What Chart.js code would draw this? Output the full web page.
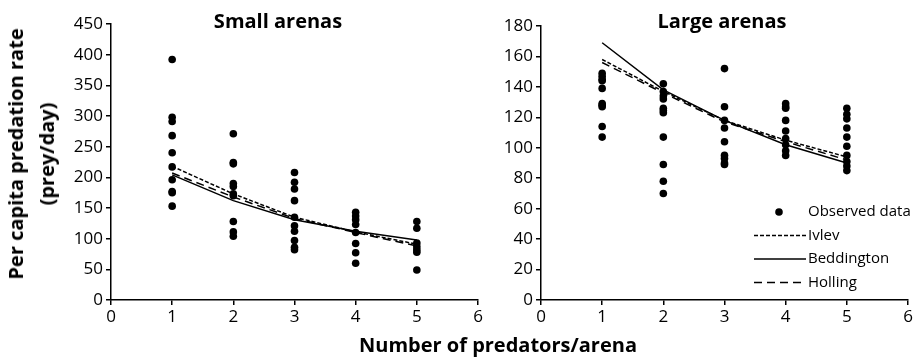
<!DOCTYPE html>
<html>
<head>
<meta charset="utf-8">
<script src="https://cdn.jsdelivr.net/npm/chart.js@4.4.1/dist/chart.umd.min.js"></script>
<style>
  html, body { margin: 0; padding: 0; background: #fff; }
  body { width: 919px; height: 362px; position: relative; overflow: hidden; font-family: 'Open Sans', sans-serif; color: #000; }
  canvas { position: absolute; top: 0; }
  #c1 { left: 0; }
  #c2 { left: 480px; }
  .title { position: absolute; font-weight: bold; white-space: nowrap; transform: translate(-50%, -50%); }
  #t1 { left: 278px; top: 20px; font-size: 20px; }
  #t2 { left: 722px; top: 20px; font-size: 20px; }
  #xt { left: 498px; top: 344px; font-size: 20px; }
  #yt { left: 31px; top: 154px; font-size: 20px; line-height: 31px; text-align: center; transform: translate(-50%, -50%) rotate(-90deg); }
</style>
</head>
<body>
<canvas id="c1" width="490" height="362"></canvas>
<canvas id="c2" width="439" height="362"></canvas>
<div class="title" id="t1">Small arenas</div>
<div class="title" id="t2">Large arenas</div>
<div class="title" id="xt">Number of predators/arena</div>
<div class="title" id="yt">Per capita predation rate<br>(prey/day)</div>
<script>
// ---------- data ----------
const predators = [1, 2, 3, 4, 5];
const xTicks = [0, 1, 2, 3, 4, 5, 6];

// Small arenas: observed per capita predation rate at each predator density
const smallObs1 = [392, 298, 291, 268, 240, 217, 196, 177, 175, 153];
const smallObs2 = [271, 224, 222, 190, 185, 173, 170, 128, 111, 104];
const smallObs3 = [208, 192, 181, 162, 135, 121, 112, 97, 86, 82];
const smallObs4 = [143, 137, 131, 123, 110, 92, 77, 60];
const smallObs5 = [128, 117, 93, 87, 82, 78, 49];
const smallIvlev = [218, 173, 135, 111, 91];
const smallBeddington = [204, 162, 131, 112, 98];
const smallHolling = [207, 168, 133, 110, 88];
const smallYTicks = [0, 50, 100, 150, 200, 250, 300, 350, 400, 450];

// Large arenas
const largeObs1 = [149, 147, 145, 144, 139, 129, 128, 127, 114, 107];
const largeObs2 = [142, 137, 134, 132, 126, 124.5, 123, 107, 89, 78, 70];
const largeObs3 = [152, 127, 118, 113, 104, 95, 93, 90, 89];
const largeObs4 = [129, 127, 126, 118, 111, 106, 102, 98, 95];
const largeObs5 = [126, 122, 119, 113, 107, 101, 95, 91, 88, 85];
const largeIvlev = [158, 137, 118, 105, 94];
const largeBeddington = [169, 138, 118, 102, 90];
const largeHolling = [156, 136, 117, 104, 92];
const largeYTicks = [0, 20, 40, 60, 80, 100, 120, 140, 160, 180];

const seriesNames = ['Observed data', 'Ivlev', 'Beddington', 'Holling'];

// ---------- helpers ----------
function obsPoints(groups) {
  const pts = [];
  groups.forEach((vals, i) => vals.forEach(v => pts.push({ x: predators[i], y: v })));
  return pts;
}
function linePoints(vals) {
  return vals.map((v, i) => ({ x: predators[i], y: v }));
}

const tickFont = { family: "'Open Sans', sans-serif", size: 17 };

// legend drawn inside chart area (right panel)
const insideLegend = {
  id: 'insideLegend',
  afterDraw(chart, args, opts) {
    if (!opts.show) return;
    const ctx = chart.ctx;
    const x0 = opts.x, y0 = opts.y, gap = opts.gap;
    ctx.save();
    ctx.font = "15px 'Open Sans', sans-serif";
    ctx.textBaseline = 'middle';
    ctx.fillStyle = '#000';
    chart.data.datasets.forEach((ds, i) => {
      const y = y0 + i * gap;
      if (i === 0) {
        ctx.beginPath();
        ctx.arc(x0 + 25, y, ds.pointRadius, 0, Math.PI * 2);
        ctx.fill();
      } else {
        ctx.beginPath();
        ctx.setLineDash(ds.borderDash || []);
        ctx.lineWidth = ds.borderWidth;
        ctx.strokeStyle = ds.borderColor;
        ctx.moveTo(x0, y);
        ctx.lineTo(x0 + 52, y);
        ctx.stroke();
        ctx.setLineDash([]);
      }
      ctx.fillText(ds.label, x0 + 54, y);
    });
    ctx.restore();
  }
};

function makeChart(id, obs, ivlev, bedd, holl, yTicks, geom, legendOpts) {
  const yMax = yTicks[yTicks.length - 1];
  const yStep = yTicks[1] - yTicks[0];
  return new Chart(document.getElementById(id), {
    type: 'scatter',
    data: {
      datasets: [
        { label: seriesNames[0], data: obsPoints(obs), pointRadius: 3.8, pointBackgroundColor: '#000', pointBorderColor: '#000', borderWidth: 0, showLine: false },
        { label: seriesNames[1], data: linePoints(ivlev), showLine: true, borderColor: '#000', borderWidth: 1.5, borderDash: [4, 2], pointRadius: 0 },
        { label: seriesNames[2], data: linePoints(bedd), showLine: true, borderColor: '#000', borderWidth: 1.5, pointRadius: 0 },
        { label: seriesNames[3], data: linePoints(holl), showLine: true, borderColor: '#000', borderWidth: 1.5, borderDash: [8, 5], pointRadius: 0 }
      ]
    },
    options: {
      responsive: false,
      animation: false,
      events: [],
      layout: { padding: { left: 0, right: geom.padRight, top: geom.padTop, bottom: 0 } },
      plugins: { legend: { display: false }, tooltip: { enabled: false }, insideLegend: legendOpts },
      scales: {
        x: {
          type: 'linear', min: xTicks[0], max: xTicks[xTicks.length - 1],
          afterBuildTicks: s => { s.ticks = xTicks.map(v => ({ value: v })); },
          ticks: { font: tickFont, color: '#000', padding: 2 },
          grid: { drawOnChartArea: false, drawTicks: true, tickLength: 5, color: '#000', lineWidth: 1.5 },
          border: { display: true, color: '#000', width: 1.5 },
          afterFit: s => { s.height = geom.xHeight; }
        },
        y: {
          type: 'linear', min: 0, max: yMax,
          afterBuildTicks: s => { s.ticks = yTicks.map(v => ({ value: v })); },
          ticks: { font: tickFont, color: '#000', padding: 3, stepSize: yStep },
          grid: { drawOnChartArea: false, drawTicks: true, tickLength: 5, color: '#000', lineWidth: 1.5 },
          border: { display: true, color: '#000', width: 1.5 },
          afterFit: s => { s.width = geom.yWidth; }
        }
      }
    },
    plugins: [insideLegend]
  });
}

makeChart('c1', [smallObs1, smallObs2, smallObs3, smallObs4, smallObs5], smallIvlev, smallBeddington, smallHolling, smallYTicks,
  { yWidth: 111, padRight: 12, padTop: 24, xHeight: 62 }, { show: false });
makeChart('c2', [largeObs1, largeObs2, largeObs3, largeObs4, largeObs5], largeIvlev, largeBeddington, largeHolling, largeYTicks,
  { yWidth: 61, padRight: 11, padTop: 26, xHeight: 62 }, { show: true, x: 754 - 480, y: 212, gap: 23.5 });
</script>
</body>
</html>
